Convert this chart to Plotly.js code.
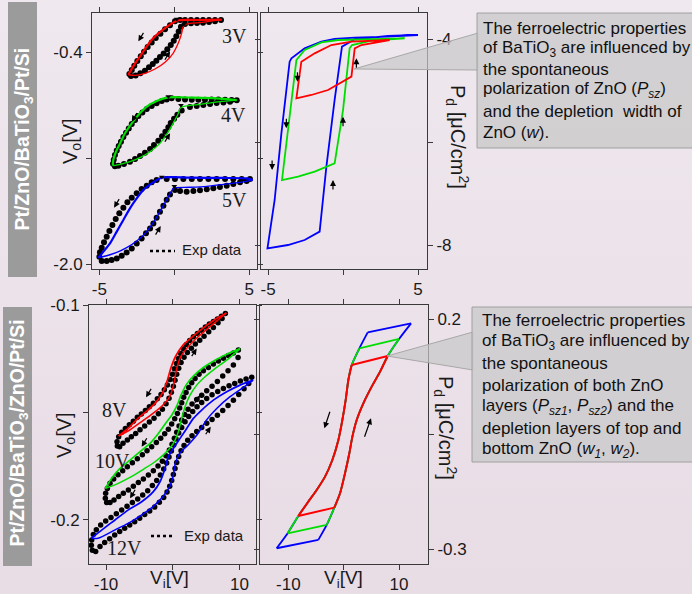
<!DOCTYPE html>
<html><head><meta charset="utf-8">
<script src="https://cdn.plot.ly/plotly-3.0.1.min.js"></script>
<style>
html,body{margin:0;padding:0;width:692px;height:594px;overflow:hidden;
background:linear-gradient(180deg,#efe8ee 0%,#ece2ea 50%,#e8dce5 100%);}
#chart{width:692px;height:594px;}
</style></head><body><div id="chart"></div>
<script>
// ---------------- Top-left: Vo vs Vi (3V, 4V, 5V) ----------------
const tl3_sim_up_x = [3.16, 1.6, 0.27, -0.29, -0.84, -1.4, -1.84, -2.29, -2.67, -2.96, -3.07];
const tl3_sim_up_y = [-0.153, -0.156, -0.158, -0.191, -0.236, -0.292, -0.355, -0.430, -0.493, -0.548, -0.569];
const tl3_sim_lo_x = [-3.07, -2.62, -1.96, -1.29, -0.62, -0.07, 0.31, 0.49, 0.6, 0.82, 1.82, 3.16];
const tl3_sim_lo_y = [-0.569, -0.574, -0.558, -0.526, -0.475, -0.405, -0.317, -0.254, -0.204, -0.186, -0.174, -0.153];
const tl3_exp_a_x = [3.11, 2.71, 2.31, 1.91, 1.51, 1.11, 0.71, 0.38, 0.04, -0.29, -0.62, -0.93, -1.24, -1.51, -1.78, -2.02, -2.24, -2.47, -2.67, -2.84, -3.0];
const tl3_exp_a_y = [-0.156, -0.156, -0.156, -0.156, -0.156, -0.156, -0.156, -0.156, -0.166, -0.196, -0.226, -0.259, -0.292, -0.325, -0.360, -0.395, -0.430, -0.465, -0.501, -0.533, -0.564];
const tl3_exp_b_x = [-2.89, -2.58, -2.27, -1.96, -1.69, -1.44, -1.2, -0.96, -0.71, -0.47, -0.24, -0.04, 0.13, 0.29, 0.44, 0.71, 1.11, 1.51, 1.91, 2.31, 2.71];
const tl3_exp_b_y = [-0.579, -0.574, -0.558, -0.538, -0.513, -0.488, -0.463, -0.435, -0.408, -0.377, -0.345, -0.312, -0.279, -0.242, -0.206, -0.186, -0.181, -0.179, -0.176, -0.171, -0.166];

const tl4_sim_up_x = [4.16, 2.82, 1.27, -0.4, -1.18, -1.84, -2.4, -2.84, -3.29, -3.62, -3.89, -4.07, -4.11];
const tl4_sim_up_y = [-0.760, -0.747, -0.742, -0.740, -0.767, -0.810, -0.873, -0.936, -1.011, -1.087, -1.150, -1.213, -1.255];
const tl4_sim_lo_x = [-4.11, -3.62, -2.96, -2.29, -1.62, -0.96, -0.4, -0.02, 0.27, 0.38, 0.56, 1.71, 3.04, 4.16];
const tl4_sim_lo_y = [-1.255, -1.245, -1.225, -1.195, -1.150, -1.087, -0.999, -0.923, -0.860, -0.823, -0.810, -0.792, -0.772, -0.760];
const tl4_exp_a_x = [4.16, 3.82, 3.38, 2.93, 2.49, 2.04, 1.6, 1.16, 0.71, 0.27, -0.18, -0.51, -0.84, -1.18, -1.51, -1.84, -2.13, -2.4, -2.62, -2.84, -3.04, -3.22, -3.4, -3.56, -3.71, -3.84, -3.96, -4.04, -4.09];
const tl4_exp_a_y = [-0.762, -0.760, -0.757, -0.755, -0.755, -0.757, -0.757, -0.757, -0.755, -0.752, -0.747, -0.755, -0.767, -0.785, -0.805, -0.828, -0.853, -0.880, -0.911, -0.941, -0.974, -1.006, -1.039, -1.074, -1.107, -1.140, -1.175, -1.210, -1.240];
const tl4_exp_b_x = [-3.96, -3.73, -3.36, -2.96, -2.62, -2.29, -1.96, -1.62, -1.36, -1.07, -0.82, -0.6, -0.4, -0.24, -0.02, 0.2, 0.49, 1.04, 1.49, 1.93, 2.38, 2.82, 3.27, 3.71];
const tl4_exp_b_y = [-1.260, -1.255, -1.243, -1.225, -1.205, -1.182, -1.157, -1.130, -1.099, -1.067, -1.034, -0.999, -0.966, -0.934, -0.901, -0.871, -0.838, -0.813, -0.805, -0.798, -0.790, -0.783, -0.778, -0.773];

const tl5_sim_up_x = [5.22, 4.82, 3.27, 1.04, -0.84, -1.51, -2.07, -2.51, -2.96, -3.4, -3.84, -4.29, -4.73, -5.07];
const tl5_sim_up_y = [-1.364, -1.351, -1.348, -1.346, -1.346, -1.389, -1.439, -1.502, -1.577, -1.665, -1.753, -1.842, -1.904, -1.950];
const tl5_sim_lo_x = [-5.07, -4.51, -3.84, -3.18, -2.51, -1.84, -1.29, -0.84, -0.4, -0.07, 0.04, 1.04, 2.16, 3.27, 4.38, 5.22];
const tl5_sim_lo_y = [-1.950, -1.935, -1.910, -1.874, -1.824, -1.753, -1.665, -1.577, -1.489, -1.426, -1.421, -1.418, -1.411, -1.396, -1.381, -1.364];
const tl5_exp_a_x = [5.04, 4.49, 3.93, 3.38, 2.82, 2.27, 1.71, 1.16, 0.6, 0.04, -0.51, -1.18, -1.51, -1.84, -2.18, -2.51, -2.84, -3.13, -3.4, -3.67, -3.91, -4.13, -4.33, -4.51, -4.69, -4.84, -4.96, -5.0];
const tl5_exp_a_y = [-1.356, -1.356, -1.356, -1.356, -1.356, -1.356, -1.356, -1.356, -1.356, -1.356, -1.356, -1.364, -1.381, -1.406, -1.431, -1.464, -1.497, -1.532, -1.572, -1.615, -1.658, -1.703, -1.748, -1.791, -1.834, -1.874, -1.909, -1.942];
const tl5_exp_b_x = [-4.84, -4.51, -4.18, -3.84, -3.51, -3.18, -2.84, -2.51, -2.18, -1.89, -1.62, -1.4, -1.18, -0.96, -0.73, -0.51, -0.29, 0.04, 0.38, 0.82, 1.27, 1.71, 2.16, 2.6, 3.04, 3.49, 3.93, 4.38, 4.82];
const tl5_exp_b_y = [-1.975, -1.975, -1.967, -1.955, -1.935, -1.910, -1.880, -1.842, -1.804, -1.766, -1.729, -1.691, -1.648, -1.603, -1.557, -1.512, -1.472, -1.439, -1.446, -1.452, -1.446, -1.441, -1.434, -1.426, -1.416, -1.406, -1.394, -1.381, -1.371];

const tl_mark_x = [0.16, 0.64, -0.4, 0.44, -0.84, 0.0];
const tl_mark_y = [-0.148, -0.186, -0.733, -0.8, -1.34, -1.41];

// ---------------- Top-right: Pd vs Vi ----------------
const tr_blue_x = [5.0, 3.0, 0.78, -0.56, -1.44, -2.56, -3.44, -3.56, -4.11, -4.56, -5.04, -3.67, -2.56, -1.56, -1.11, -0.56, -0.07, 0.11, 0.78, 3.0, 5.0];
const tr_blue_y = [-3.922, -3.955, -3.974, -4.0, -4.052, -4.181, -4.375, -4.440, -5.832, -7.126, -8.065, -8.0, -7.903, -7.741, -6.479, -5.184, -4.149, -4.117, -4.006, -3.942, -3.922];
const tr_green_x = [4.11, 1.89, -0.33, -1.44, -2.56, -3.11, -4.07, -3.0, -1.89, -0.56, 0.0, 0.44, 0.6, 1.89, 4.11];
const tr_green_y = [-3.987, -4.0, -4.019, -4.065, -4.214, -4.408, -6.738, -6.673, -6.576, -6.414, -5.379, -4.181, -4.117, -4.032, -3.987];
const tr_red_x = [3.11, 1.89, 0.56, -0.78, -1.89, -2.78, -3.11, -2.11, -1.0, 0.56, 0.78, 1.22, 3.11];
const tr_red_y = [-4.019, -4.032, -4.052, -4.117, -4.278, -4.440, -5.152, -5.087, -4.990, -4.731, -4.181, -4.117, -4.019];

// ---------------- Bottom-left: Vo vs Vi (8V, 10V, 12V) ----------------
const bl8_sim_d_x = [8.05, 6.55, 4.8, 3.05, 1.55, 0.4, -0.3, -0.8, -1.45, -2.45, -3.7, -5.2, -6.7, -8.1];
const bl8_sim_d_y = [-0.1036, -0.1062, -0.1101, -0.1144, -0.1186, -0.1240, -0.1295, -0.1349, -0.1403, -0.1450, -0.1488, -0.1527, -0.1574, -0.1609];
const bl8_sim_a_x = [-8.1, -6.45, -4.7, -2.95, -1.45, -0.45, 0.2, 0.55, 1.2, 2.3, 3.8, 5.55, 7.05, 8.05];
const bl8_sim_a_y = [-0.1609, -0.1581, -0.1543, -0.1504, -0.1465, -0.1426, -0.1364, -0.1302, -0.1240, -0.1194, -0.1147, -0.1101, -0.1062, -0.1036];
const bl8_exp_d_x = [7.9, 7.3, 6.7, 6.1, 5.5, 4.9, 4.3, 3.7, 3.1, 2.55, 2.05, 1.6, 1.2, 0.85, 0.55, 0.25, -0.05, -0.4, -0.8, -1.25, -1.75, -2.3, -2.9, -3.5, -4.1, -4.7, -5.3, -5.9, -6.5, -7.1, -7.65, -8.1, -8.35, -8.3];
const bl8_exp_d_y = [-0.1039, -0.1051, -0.1064, -0.1076, -0.1088, -0.1102, -0.1116, -0.1132, -0.1147, -0.1164, -0.1183, -0.1203, -0.1225, -0.1248, -0.1271, -0.1296, -0.1321, -0.1346, -0.1371, -0.1394, -0.1416, -0.1436, -0.1456, -0.1473, -0.1490, -0.1507, -0.1522, -0.1540, -0.1557, -0.1574, -0.1591, -0.1612, -0.1636, -0.1656];
const bl8_exp_a_x = [-7.95, -7.45, -6.8, -6.2, -5.55, -4.9, -4.2, -3.5, -2.8, -2.15, -1.55, -1.0, -0.55, -0.2, 0.1, 0.35, 0.6, 0.9, 1.25, 1.7, 2.2, 2.8, 3.4, 4.05, 4.7, 5.4, 6.1, 6.8, 7.4];
const bl8_exp_a_y = [-0.1659, -0.1643, -0.1628, -0.1612, -0.1597, -0.1580, -0.1563, -0.1544, -0.1526, -0.1505, -0.1484, -0.1459, -0.1433, -0.1405, -0.1377, -0.1349, -0.1321, -0.1293, -0.1267, -0.1242, -0.1220, -0.1200, -0.1181, -0.1163, -0.1144, -0.1124, -0.1104, -0.1082, -0.1062];

const bl10_sim_d_x = [10.1, 8.1, 6.35, 4.6, 3.1, 2.0, 1.25, 0.6, -0.15, -1.0, -2.15, -3.4, -4.9, -6.4, -7.9, -9.15, -10.1];
const bl10_sim_d_y = [-0.1202, -0.1228, -0.1256, -0.1290, -0.1330, -0.1372, -0.1419, -0.1470, -0.1512, -0.1547, -0.1597, -0.1643, -0.1682, -0.1721, -0.1760, -0.1806, -0.1853];
const bl10_sim_a_x = [-10.1, -8.4, -6.4, -4.4, -2.65, -1.15, 0.1, 0.85, 1.35, 1.85, 2.6, 3.6, 4.85, 6.35, 8.1, 10.1];
const bl10_sim_a_y = [-0.1853, -0.1833, -0.1802, -0.1764, -0.1729, -0.1690, -0.1643, -0.1589, -0.1527, -0.1473, -0.1419, -0.1372, -0.1333, -0.1295, -0.1256, -0.1202];
const bl10_exp_d_x = [9.85, 9.1, 8.35, 7.6, 6.85, 6.1, 5.35, 4.6, 3.95, 3.35, 2.85, 2.4, 2.0, 1.65, 1.35, 1.05, 0.7, 0.3, -0.15, -0.65, -1.2, -1.8, -2.45, -3.15, -3.85, -4.55, -5.3, -6.05, -6.8, -7.5, -8.2, -8.85, -9.4, -9.8, -10.05, -10.1, -9.9];
const bl10_exp_d_y = [-0.1209, -0.1222, -0.1234, -0.1247, -0.1260, -0.1274, -0.1290, -0.1305, -0.1322, -0.1341, -0.1361, -0.1383, -0.1406, -0.1429, -0.1454, -0.1479, -0.1504, -0.1529, -0.1553, -0.1577, -0.1598, -0.1619, -0.1639, -0.1659, -0.1678, -0.1696, -0.1715, -0.1733, -0.1752, -0.1771, -0.1789, -0.1809, -0.1829, -0.1853, -0.1876, -0.1899, -0.1919];
const bl10_exp_a_x = [-9.4, -8.8, -8.1, -7.4, -6.65, -5.9, -5.15, -4.4, -3.65, -2.9, -2.2, -1.55, -1.0, -0.5, -0.1, 0.25, 0.6, 0.95, 1.35, 1.8, 2.3, 2.9, 3.6, 4.35, 5.1, 5.9, 6.7, 7.5, 8.3, 9.1, 9.8];
const bl10_exp_a_y = [-0.1919, -0.1907, -0.1891, -0.1876, -0.1860, -0.1843, -0.1826, -0.1809, -0.1791, -0.1771, -0.1749, -0.1726, -0.1701, -0.1674, -0.1647, -0.1619, -0.1591, -0.1563, -0.1535, -0.1509, -0.1484, -0.1460, -0.1439, -0.1419, -0.1398, -0.1377, -0.1355, -0.1330, -0.1305, -0.1278, -0.1243];

const bl12_sim_d_x = [12.05, 10.1, 8.1, 6.1, 4.35, 3.1, 2.1, 1.1, 0.1, -0.65, -1.15, -1.9, -2.9, -4.65, -6.65, -8.65, -10.65, -12.2];
const bl12_sim_d_y = [-0.1349, -0.1372, -0.1403, -0.1442, -0.1488, -0.1527, -0.1574, -0.1620, -0.1667, -0.1705, -0.1760, -0.1822, -0.1868, -0.1915, -0.1953, -0.2000, -0.2047, -0.2085];
const bl12_sim_a_x = [-12.2, -11.2, -8.7, -6.7, -4.7, -2.95, -1.45, -0.45, 0.05, 0.4, 1.05, 2.3, 3.8, 5.05, 6.6, 8.6, 10.6, 12.05];
const bl12_sim_a_y = [-0.2085, -0.2085, -0.2047, -0.2016, -0.1977, -0.1938, -0.1891, -0.1845, -0.1798, -0.1736, -0.1690, -0.1651, -0.1597, -0.1535, -0.1481, -0.1426, -0.1383, -0.1349];
const bl12_exp_d_x = [11.85, 11.0, 10.15, 9.3, 8.45, 7.6, 6.75, 5.9, 5.1, 4.35, 3.65, 3.0, 2.4, 1.85, 1.35, 0.9, 0.5, 0.15, -0.2, -0.55, -0.9, -1.35, -1.85, -2.4, -3.05, -3.75, -4.5, -5.25, -6.05, -6.85, -7.65, -8.45, -9.25, -10.05, -10.8, -11.45, -11.9, -12.15, -12.2, -12.05];
const bl12_exp_d_y = [-0.1336, -0.1344, -0.1353, -0.1364, -0.1375, -0.1388, -0.1402, -0.1417, -0.1434, -0.1453, -0.1473, -0.1495, -0.1518, -0.1543, -0.1569, -0.1595, -0.1623, -0.1651, -0.1679, -0.1707, -0.1735, -0.1763, -0.1791, -0.1816, -0.1840, -0.1864, -0.1884, -0.1902, -0.1919, -0.1936, -0.1953, -0.1971, -0.1988, -0.2005, -0.2023, -0.2045, -0.2068, -0.2093, -0.2118, -0.2141];
const bl12_exp_a_x = [-11.55, -10.9, -10.2, -9.45, -8.7, -7.95, -7.2, -6.45, -5.7, -4.95, -4.2, -3.45, -2.7, -2.0, -1.35, -0.85, -0.45, -0.15, 0.1, 0.35, 0.6, 0.9, 1.25, 1.7, 2.25, 2.9, 3.6, 4.35, 5.1, 5.9, 6.7, 7.5, 8.3, 9.1, 9.9, 10.7, 11.4];
const bl12_exp_a_y = [-0.2147, -0.2124, -0.2105, -0.2087, -0.2070, -0.2054, -0.2039, -0.2023, -0.2008, -0.1992, -0.1975, -0.1958, -0.1940, -0.1918, -0.1895, -0.1870, -0.1843, -0.1816, -0.1788, -0.1760, -0.1732, -0.1704, -0.1678, -0.1653, -0.1629, -0.1608, -0.1588, -0.1569, -0.1550, -0.1532, -0.1512, -0.1490, -0.1467, -0.1442, -0.1416, -0.1389, -0.1364];

// ---------------- Bottom-right: Pd vs Vi (shared switching curves) ----------------
const br_desc_x = [4.34, 2.83, 1.45, 0.84, 0.36, -0.24, -0.96, -2.05, -3.37, -4.88, -6.39, -8.19, -10.12, -12.11];
const br_desc_y = [0.1711, 0.1364, 0.1001, 0.0676, 0.0242, -0.0192, -0.0627, -0.1061, -0.1423, -0.1712, -0.1965, -0.2276, -0.2653, -0.2978];
const br_asc_x = [-4.58, -3.07, -1.69, -0.66, 0.24, 1.02, 1.57, 2.35, 3.55, 5.06, 6.57, 7.95, 10.0, 12.17];
const br_asc_y = [-0.2797, -0.2472, -0.2096, -0.1784, -0.1350, -0.0916, -0.0554, -0.0192, 0.0169, 0.0531, 0.0857, 0.1197, 0.1566, 0.1906];

// ---------------- Texts ----------------
const panel1_name = 'Pt/ZnO/BaTiO<sub>3</sub>/Pt/Si';
const panel2_name = 'Pt/ZnO/BaTiO<sub>3</sub>/ZnO/Pt/Si';
const callout1 = ['The ferroelectric properties', 'of BaTiO<sub>3</sub> are influenced by', 'the spontaneous', 'polarization of ZnO (<i>P<sub>sz</sub></i>)', 'and the depletion  width of', 'ZnO (<i>w</i>).'];
const callout2 = ['The ferroelectric properties', 'of BaTiO<sub>3</sub> are influenced by', 'the spontaneous', 'polarization of both ZnO', 'layers (<i>P<sub>sz1</sub></i>, <i>P<sub>sz2</sub></i>) and the', 'depletion layers of top and', 'bottom ZnO (<i>w<sub>1</sub></i>, <i>w<sub>2</sub></i>).'];
const loop_labels_top = ['3V', '4V', '5V'];
const loop_labels_bot = ['8V', '10V', '12V'];

// ================== drawing ==================
const W = 692, H = 594;
const px = x => x / W, py = y => 1 - y / H;
const RED = '#ff0000', GREEN = '#00dd00', BLUE = '#0000ff';
const SANS = 'Liberation Sans, Arial, sans-serif';
const SERIF = 'Liberation Serif, Times New Roman, serif';

function ln(x, y, xa, ya, color, w, spline) {
  return {x, y, xaxis: xa, yaxis: ya, mode: 'lines', hoverinfo: 'skip', showlegend: false,
    line: {color, width: w, shape: spline ? 'spline' : 'linear', smoothing: 0.7}};
}
function dots(x, y, xa, ya, s) {
  return {x, y, xaxis: xa, yaxis: ya, mode: 'markers', hoverinfo: 'skip', showlegend: false,
    marker: {size: s || 6, color: '#000'}};
}

const traces = [];
[[tl3_exp_a_x, tl3_exp_a_y, tl3_exp_b_x, tl3_exp_b_y], [tl4_exp_a_x, tl4_exp_a_y, tl4_exp_b_x, tl4_exp_b_y], [tl5_exp_a_x, tl5_exp_a_y, tl5_exp_b_x, tl5_exp_b_y]].forEach(d => {
  traces.push(dots(d[0], d[1], 'x', 'y', 6));
  traces.push(dots(d[2], d[3], 'x', 'y', 6));
});
[[tl3_sim_up_x, tl3_sim_up_y, tl3_sim_lo_x, tl3_sim_lo_y, RED], [tl4_sim_up_x, tl4_sim_up_y, tl4_sim_lo_x, tl4_sim_lo_y, GREEN], [tl5_sim_up_x, tl5_sim_up_y, tl5_sim_lo_x, tl5_sim_lo_y, BLUE]].forEach(d => {
  traces.push(ln(d[0], d[1], 'x', 'y', d[4], 2.2, true));
  traces.push(ln(d[2], d[3], 'x', 'y', d[4], 1.3, true));
});
traces.push({x: tl_mark_x, y: tl_mark_y, xaxis: 'x', yaxis: 'y', mode: 'markers', hoverinfo: 'skip', showlegend: false,
  marker: {symbol: 'triangle-down', size: 5, color: '#000'}});
traces.push(ln(tr_blue_x, tr_blue_y, 'x2', 'y2', BLUE, 1.8));
traces.push(ln(tr_green_x, tr_green_y, 'x2', 'y2', GREEN, 1.8));
traces.push(ln(tr_red_x, tr_red_y, 'x2', 'y2', RED, 1.8));
[[bl8_exp_d_x, bl8_exp_d_y, bl8_exp_a_x, bl8_exp_a_y], [bl10_exp_d_x, bl10_exp_d_y, bl10_exp_a_x, bl10_exp_a_y], [bl12_exp_d_x, bl12_exp_d_y, bl12_exp_a_x, bl12_exp_a_y]].forEach(d => {
  traces.push(dots(d[0], d[1], 'x3', 'y3', 5.5));
  traces.push(dots(d[2], d[3], 'x3', 'y3', 5.5));
});
[[bl8_sim_d_x, bl8_sim_d_y, bl8_sim_a_x, bl8_sim_a_y, RED], [bl10_sim_d_x, bl10_sim_d_y, bl10_sim_a_x, bl10_sim_a_y, GREEN], [bl12_sim_d_x, bl12_sim_d_y, bl12_sim_a_x, bl12_sim_a_y, BLUE]].forEach(d => {
  traces.push(ln(d[0], d[1], 'x3', 'y3', d[4], 1.7, true));
  traces.push(ln(d[2], d[3], 'x3', 'y3', d[4], 1.5, true));
});
// bottom-right loops: curved switching branches + straight connecting edges
function loopBR(i0, i1, color, w) {
  traces.push(ln(br_desc_x.slice(i0, i1 + 1), br_desc_y.slice(i0, i1 + 1), 'x4', 'y4', color, w, true));
  traces.push(ln(br_asc_x.slice(i0, i1 + 1), br_asc_y.slice(i0, i1 + 1), 'x4', 'y4', color, w, true));
  traces.push(ln([br_asc_x[i1], br_desc_x[i0]], [br_asc_y[i1], br_desc_y[i0]], 'x4', 'y4', color, w));
  traces.push(ln([br_desc_x[i1], br_asc_x[i0]], [br_desc_y[i1], br_asc_y[i0]], 'x4', 'y4', color, w));
}
loopBR(0, 13, BLUE, 1.8);
loopBR(1, 12, GREEN, 1.8);
loopBR(2, 11, RED, 2.0);

const axBase = {showline: true, linecolor: '#3a3a3a', linewidth: 1, mirror: 'ticks', ticks: 'outside', ticklen: 5,
  tickwidth: 1, tickcolor: '#3a3a3a', showgrid: false, zeroline: false, tickmode: 'array', fixedrange: true,
  tickfont: {family: SANS, size: 17, color: '#1a1a1a'}};

const layout = {
  width: W, height: H, margin: {l: 0, r: 0, t: 0, b: 0},
  paper_bgcolor: 'rgba(0,0,0,0)', plot_bgcolor: 'rgba(0,0,0,0)', showlegend: false,
  font: {family: SANS, color: '#1a1a1a'},
  xaxis: Object.assign({}, axBase, {domain: [px(92), px(257)], range: [-5.49, 5.51], anchor: 'y', tickvals: [-5, 0, 5], ticktext: ['-5', '', '5']}),
  yaxis: Object.assign({}, axBase, {domain: [py(269), py(13)], range: [-2.035, -0.103], anchor: 'x', tickvals: [-0.4, -1.2, -2.0], ticktext: ['-0.4', '', '-2.0']}),
  xaxis2: Object.assign({}, axBase, {domain: [px(261), px(427)], range: [-5.47, 5.6], anchor: 'y2', tickvals: [-5, 0, 5], ticktext: ['-5', '', '5']}),
  yaxis2: Object.assign({}, axBase, {domain: [py(269), py(13)], range: [-8.466, -3.495], anchor: 'x2', side: 'right', tickvals: [-4, -6, -8], ticktext: ['-4', '', '-8']}),
  xaxis3: Object.assign({}, axBase, {domain: [px(89), px(256)], range: [-12.55, 12.49], anchor: 'y3', tickvals: [-10, 0, 10], ticktext: ['-10', '', '10']}),
  yaxis3: Object.assign({}, axBase, {domain: [py(564), py(305)], range: [-0.2205, -0.0999], anchor: 'x3', tickvals: [-0.1, -0.15, -0.2], ticktext: ['-0.1', '', '-0.2']}),
  xaxis4: Object.assign({}, axBase, {domain: [px(260), px(428)], range: [-15.12, 15.23], anchor: 'y4', tickvals: [-10, 0, 10], ticktext: ['-10', '', '10']}),
  yaxis4: Object.assign({}, axBase, {domain: [py(564), py(305)], range: [-0.332, 0.2304], anchor: 'x4', side: 'right', tickvals: [0.2, -0.05, -0.3], ticktext: ['0.2', '', '-0.3']}),
  shapes: [], annotations: []
};

const S = layout.shapes, A = layout.annotations;
function ptxt(x, y, text, size, angle, fam, color, xanchor) {
  A.push({xref: 'paper', yref: 'paper', x: px(x), y: py(y), text, textangle: angle || 0, showarrow: false,
    xanchor: xanchor || 'center', yanchor: 'middle',
    font: {family: fam || SANS, size, color: color || '#1a1a1a'}});
}
// side banners
S.push({type: 'rect', xref: 'paper', yref: 'paper', x0: px(8), x1: px(37), y0: py(277), y1: py(2), fillcolor: '#9b9b9b', line: {width: 0}, layer: 'below'});
S.push({type: 'rect', xref: 'paper', yref: 'paper', x0: px(3), x1: px(32), y0: py(566), y1: py(307), fillcolor: '#9b9b9b', line: {width: 0}, layer: 'below'});
ptxt(22.5, 139, '<b>' + panel1_name + '</b>', 19.5, -90, SANS, '#ffffff');
ptxt(17.5, 433, '<b>' + panel2_name + '</b>', 19.5, -90, SANS, '#ffffff');

// axis titles
ptxt(72, 141, 'V<sub>o</sub>[V]', 20, -90);
ptxt(65, 435, 'V<sub>o</sub>[V]', 20, -90);
ptxt(169, 579, 'V<sub>i</sub>[V]', 19, 0);
ptxt(343, 579, 'V<sub>i</sub>[V]', 19, 0);
ptxt(458, 137, 'P<sub>d</sub> [μC/cm<sup>2</sup>]', 20, 90);
ptxt(446, 428, 'P<sub>d</sub> [μC/cm<sup>2</sup>]', 20, 90);

// loop labels
[[234, 36], [233, 115], [234, 200]].forEach((p, i) => ptxt(p[0], p[1], loop_labels_top[i], 20, 0, SERIF));
[[114, 410], [112, 461], [124, 548]].forEach((p, i) => ptxt(p[0], p[1], loop_labels_bot[i], 20, 0, SERIF));

// Exp data legends
[[150, 175, 251, 180], [151, 174, 536, 182]].forEach(p => {
  S.push({type: 'line', xref: 'paper', yref: 'paper', x0: px(p[0]), x1: px(p[1]), y0: py(p[2]), y1: py(p[2]), line: {color: '#000', width: 2.5, dash: 'dot'}});
  ptxt(p[3], p[2] - 1, 'Exp data', 15, 0, SANS, '#1a1a1a', 'left');
});

// direction arrows [xaxis, yaxis, x, y, ax, ay]
const arrows = [
  ['x', 'y', -2.4, -0.317, 6, -10], ['x', 'y', -0.29, -0.392, -6, 10],
  ['x', 'y', -2.84, -0.923, 6, -10], ['x', 'y', -0.29, -1.011, -6, 10],
  ['x', 'y', -4.02, -1.572, 6, -10], ['x', 'y', -0.91, -1.711, -6, 10],
  ['x2', 'y2', -3.04, -4.828, 0, -11], ['x2', 'y2', -3.78, -5.735, 0, -11], ['x2', 'y2', -4.73, -6.544, 0, -11],
  ['x2', 'y2', 0.89, -4.375, 0, 11], ['x2', 'y2', 0.0, -5.508, 0, 11], ['x2', 'y2', -0.67, -6.738, 0, 11],
  ['x3', 'y3', -4.0, -0.1429, 6, -10], ['x3', 'y3', 3.6, -0.1202, -6, 9],
  ['x3', 'y3', -4.65, -0.1659, 6, -10], ['x3', 'y3', 4.1, -0.1419, -6, 9],
  ['x3', 'y3', -6.4, -0.1899, 6, -10], ['x3', 'y3', 5.7, -0.1566, -6, 9],
  ['x4', 'y4', -3.49, -0.0373, 6, -18], ['x4', 'y4', 4.94, -0.0156, -7, 20]
];
arrows.forEach(a => A.push({xref: a[0], yref: a[1], x: a[2], y: a[3], ax: a[4], ay: a[5], text: '', showarrow: true,
  arrowhead: 2, arrowsize: 1, arrowwidth: 1.2, arrowcolor: '#000'}));

// callouts
function wedge(tx, ty, bx, y1, y2) {
  S.push({type: 'path', xref: 'paper', yref: 'paper',
    path: `M ${px(tx)} ${py(ty)} L ${px(bx)} ${py(y1)} L ${px(bx)} ${py(y2)} Z`,
    fillcolor: 'rgba(200,200,200,0.7)', line: {color: '#a8a8a8', width: 1}, layer: 'above'});
}
wedge(354, 69, 478, 33, 70);
wedge(387, 356, 473, 332, 370);
S.push({type: 'rect', xref: 'paper', yref: 'paper', x0: px(477), x1: px(700), y0: py(148), y1: py(13), fillcolor: 'rgba(204,203,204,0.85)', line: {color: '#a0a0a0', width: 1}, layer: 'above'});
S.push({type: 'rect', xref: 'paper', yref: 'paper', x0: px(472), x1: px(700), y0: py(462), y1: py(307), fillcolor: 'rgba(204,203,204,0.85)', line: {color: '#a0a0a0', width: 1}, layer: 'above'});
callout1.forEach((t, i) => ptxt(481, 28 + i * 20.8, t, 17, 0, SANS, '#111', 'left'));
callout2.forEach((t, i) => ptxt(480, 320 + i * 21.7, t, 17, 0, SANS, '#111', 'left'));

Plotly.newPlot('chart', traces, layout, {displayModeBar: false, staticPlot: true});
</script></body></html>
